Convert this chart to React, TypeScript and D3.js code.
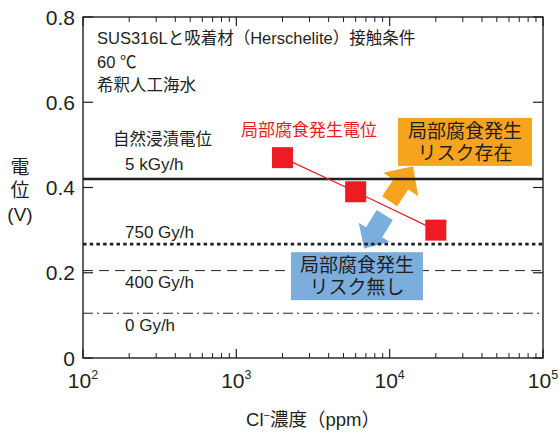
import React from "react";
import * as d3 from "d3";

const W = 559;
const H = 432;

const xTickExps = [2, 3, 4, 5];
const yTicks = [0, 0.2, 0.4, 0.6, 0.8];
const yTickLabels = ["0", "0.2", "0.4", "0.6", "0.8"];

const redX = [2000, 6000, 20000];
const redY = [0.47, 0.39, 0.3];

const refLevels = [0.42, 0.267, 0.205, 0.105];
const refLabels = ["5 kGy/h", "750 Gy/h", "400 Gy/h", "0 Gy/h"];

const conditionLines = ["SUS316Lと吸着材（Herschelite）接触条件", "60 ℃", "希釈人工海水"];
const naturalLabel = "自然浸漬電位";
const redLabel = "局部腐食発生電位";
const riskYes = ["局部腐食発生", "リスク存在"];
const riskNo = ["局部腐食発生", "リスク無し"];

const FONT = "'Liberation Sans', 'Noto Sans CJK JP', sans-serif";
const INK = "#231F20";
const RED = "#ED1C24";
const ORANGE = "#F6A31E";
const BLUE = "#7BAEDD";

function arrowPath(
  tail: [number, number],
  tip: [number, number],
  shaftW: number,
  headW: number,
  headL: number
) {
  const dx = tip[0] - tail[0];
  const dy = tip[1] - tail[1];
  const len = Math.hypot(dx, dy);
  const ux = dx / len;
  const uy = dy / len;
  const px = -uy;
  const py = ux;
  const bx = tip[0] - ux * headL;
  const by = tip[1] - uy * headL;
  const pts: [number, number][] = [
    [tail[0] + px * shaftW / 2, tail[1] + py * shaftW / 2],
    [bx + px * shaftW / 2, by + py * shaftW / 2],
    [bx + px * headW / 2, by + py * headW / 2],
    tip,
    [bx - px * headW / 2, by - py * headW / 2],
    [bx - px * shaftW / 2, by - py * shaftW / 2],
    [tail[0] - px * shaftW / 2, tail[1] - py * shaftW / 2],
  ];
  return "M" + pts.map((p) => p.join(",")).join("L") + "Z";
}

export default function App() {
  const left = 83,
    right = 543,
    top = 17,
    bottom = 358;
  const x = d3.scaleLog().domain([1e2, 1e5]).range([left, right]);
  const y = d3.scaleLinear().domain([0, 0.8]).range([bottom, top]);

  const minorX: number[] = [];
  for (let e = 2; e < 5; e++) {
    for (let m = 2; m <= 9; m++) minorX.push(m * Math.pow(10, e));
  }

  const refStyles = [
    { w: 2.6, dash: undefined as string | undefined, dy: -9 },
    { w: 2.8, dash: "3.5,3.2", dy: -6 },
    { w: 1, dash: "10,6", dy: 17 },
    { w: 1, dash: "10,4,2,4", dy: 18 },
  ];

  const orangeArrow = arrowPath(
    [x(10000), y(0.368)],
    [x(14200), y(0.45)],
    18,
    42,
    22
  );
  const blueArrow = arrowPath(
    [x(9290), y(0.3355)],
    [x(6810), y(0.257)],
    19,
    36,
    19
  );

  const oc = [x(30970), y(0.507)];
  const bc = [x(6120), y(0.192)];
  const boxW = 134,
    boxH = 48;

  const line = d3
    .line<number>()
    .x((_, i) => x(redX[i]))
    .y((d) => y(d));

  const sq = 21;

  return (
    <svg
      width={W}
      height={H}
      style={{ position: "absolute", left: 0, top: 0, background: "#fff" }}
      fontFamily={FONT}
    >
      <rect width={W} height={H} fill="#fff" />

      {/* arrows */}
      <path d={orangeArrow} fill={ORANGE} />
      <path d={blueArrow} fill={BLUE} />

      {/* reference lines */}
      {refLevels.map((v, i) => (
        <line
          key={"ref" + i}
          x1={left}
          x2={right}
          y1={y(v)}
          y2={y(v)}
          stroke={INK}
          strokeWidth={refStyles[i].w}
          strokeDasharray={refStyles[i].dash}
        />
      ))}
      {refLabels.map((t, i) => (
        <text
          key={"rl" + i}
          x={125}
          y={y(refLevels[i]) + refStyles[i].dy}
          fontSize={17}
          fill={INK}
        >
          {t}
        </text>
      ))}
      <text x={113} y={145} fontSize={16.5} fill={INK}>
        {naturalLabel}
      </text>

      {/* boxes */}
      <rect x={oc[0] - boxW / 2} y={oc[1] - boxH / 2} width={boxW} height={boxH} fill={ORANGE} />
      {riskYes.map((t, i) => (
        <text
          key={"ry" + i}
          x={oc[0]}
          y={oc[1] - 4 + i * 22}
          fontSize={19}
          textAnchor="middle"
          fill={INK}
        >
          {t}
        </text>
      ))}
      <rect x={bc[0] - boxW / 2 + 1} y={bc[1] - boxH / 2} width={boxW - 2} height={boxH} fill={BLUE} />
      {riskNo.map((t, i) => (
        <text
          key={"rn" + i}
          x={bc[0]}
          y={bc[1] - 4 + i * 22}
          fontSize={19}
          textAnchor="middle"
          fill={INK}
        >
          {t}
        </text>
      ))}

      {/* red series */}
      <path d={line(redY) || ""} fill="none" stroke={RED} strokeWidth={1.2} />
      {redY.map((v, i) => (
        <rect
          key={"sq" + i}
          x={x(redX[i]) - sq / 2}
          y={y(v) - sq / 2}
          width={sq}
          height={sq}
          fill={RED}
        />
      ))}
      <text x={241} y={136} fontSize={17} fill={RED}>
        {redLabel}
      </text>

      {/* condition text */}
      {conditionLines.map((t, i) => (
        <text key={"c" + i} x={97} y={44 + i * 23.5} fontSize={16.5} fill={INK}>
          {t}
        </text>
      ))}

      {/* frame */}
      <rect
        x={left}
        y={top}
        width={right - left}
        height={bottom - top}
        fill="none"
        stroke={INK}
        strokeWidth={1.4}
      />

      {/* x ticks */}
      {xTickExps.map((e) => {
        const v = Math.pow(10, e);
        return (
          <g key={"xt" + e}>
            <line x1={x(v)} x2={x(v)} y1={bottom} y2={bottom - 9} stroke={INK} strokeWidth={1.2} />
            <line x1={x(v)} x2={x(v)} y1={top} y2={top + 9} stroke={INK} strokeWidth={1.2} />
            <text x={x(v)} y={388} fontSize={21} textAnchor="middle" fill={INK}>
              10
              <tspan dy={-9} fontSize={12.5}>
                {e}
              </tspan>
            </text>
          </g>
        );
      })}
      {minorX.map((v, i) => (
        <g key={"mx" + i}>
          <line x1={x(v)} x2={x(v)} y1={bottom} y2={bottom - 5} stroke={INK} strokeWidth={1} />
          <line x1={x(v)} x2={x(v)} y1={top} y2={top + 5} stroke={INK} strokeWidth={1} />
        </g>
      ))}

      {/* y ticks */}
      {yTicks.map((v, i) => (
        <g key={"yt" + i}>
          <line x1={left} x2={left + 10} y1={y(v)} y2={y(v)} stroke={INK} strokeWidth={1.2} />
          <line x1={right} x2={right - 10} y1={y(v)} y2={y(v)} stroke={INK} strokeWidth={1.2} />
          <text x={75} y={y(v) + 7.5} fontSize={21} textAnchor="end" fill={INK}>
            {yTickLabels[i]}
          </text>
        </g>
      ))}

      {/* y title */}
      <text x={20} y={174} fontSize={19} textAnchor="middle" fill={INK}>
        電
      </text>
      <text x={20} y={197} fontSize={19} textAnchor="middle" fill={INK}>
        位
      </text>
      <text x={20} y={221} fontSize={19} textAnchor="middle" fill={INK}>
        (V)
      </text>

      {/* x title */}
      <text x={313} y={426} fontSize={18.5} textAnchor="middle" fill={INK}>
        Cl
        <tspan dy={-7} fontSize={11}>
          −
        </tspan>
        <tspan dy={7}>濃度（ppm）</tspan>
      </text>
    </svg>
  );
}
